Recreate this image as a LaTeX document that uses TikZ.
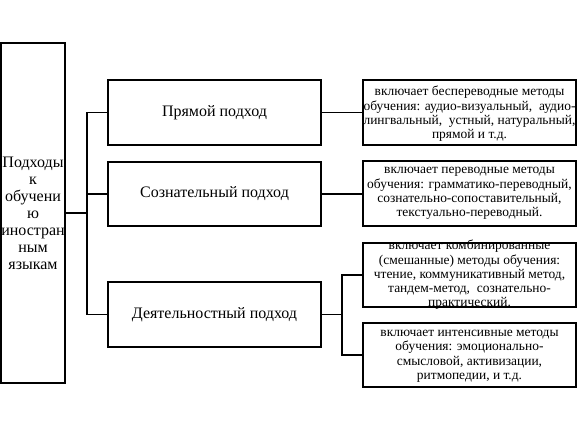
\documentclass[tikz,border=0pt]{standalone}
\usepackage{fontspec}
\setmainfont{Liberation Serif}
\begin{document}
\begin{tikzpicture}[x=0.75pt,y=-0.75pt,
  box/.style={draw=black,line width=1pt,rectangle,inner sep=0pt,align=center},
  midbox/.style={box,minimum width=159.75pt,font=\fontsize{12}{13}\selectfont},
  rbox/.style={box,minimum width=159.75pt},
  rtext/.style={inner sep=0pt,align=center,font=\fontsize{10.1}{10.7}\selectfont},
  conn/.style={line width=1pt,draw=black}]
\useasboundingbox (0,0) rectangle (588,431);
% left box
\node[box,minimum width=48pt,minimum height=255pt,font=\fontsize{12}{12.75}\selectfont] (L) at (33,213)
  {Подходы\\к\\обучени\\ю\\иностран\\ным\\языкам};
% middle boxes
\node[midbox,minimum height=48.75pt] (M1) at (214.5,112.5) {Прямой подход};
\node[midbox,minimum height=48pt] (M2) at (214.5,194) {Сознательный подход};
\node[midbox,minimum height=48.75pt] (M3) at (214.5,314.5) {Деятельностный подход};
% right boxes
\node[rbox,minimum height=48.75pt] (R1) at (469.5,112.5) {};
\node[rtext] (T1) at ([yshift=-1pt]R1.center) {включает беспереводные методы\\обучения: аудио-визуальный,\ \ аудио-\\лингвальный,\ \ устный, натуральный,\\прямой и т.д.};
\node[rbox,minimum height=48.75pt] (R2) at (469.5,193.5) {};
\node[rtext] (T2) at (R2.center) {включает переводные методы\\обучения: грамматико-переводный,\\сознательно-сопоставительный,\\текстуально-переводный.};
\node[rbox,minimum height=48pt] (R3) at (469.5,275) {};
\node[rtext] (T3) at (R3.center) {включает комбинированные\\(смешанные) методы обучения:\\чтение, коммуникативный метод,\\тандем-метод,\ \ сознательно-\\практический.};
\node[rbox,minimum height=48pt] (R4) at (469.5,355) {};
\node[rtext] (T4) at ([yshift=-1pt]R4.center) {включает интенсивные методы\\обучения: эмоционально-\\смысловой, активизации,\\ритмопедии, и т.д.};
% connectors
\coordinate (J1) at (87,213);
\coordinate (J2) at (342,314.5);
\draw[conn] (L.east) -- (J1);
\draw[conn] (J1) |- (M1.west);
\draw[conn] (J1) |- (M2.west);
\draw[conn] (J1) |- (M3.west);
\draw[conn] (M1.east) -- (M1.east -| R1.west);
\draw[conn] (M2.east) -- (M2.east -| R2.west);
\draw[conn] (M3.east) -- (J2);
\draw[conn] (J2) |- (R3.west);
\draw[conn] (J2) |- (R4.west);
\end{tikzpicture}
\end{document}
